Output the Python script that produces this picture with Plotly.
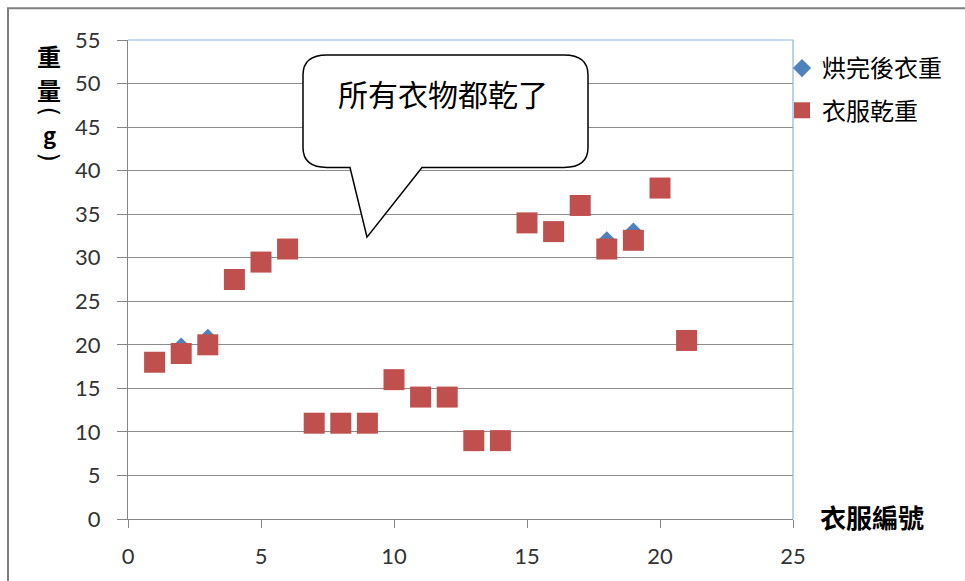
import plotly.graph_objects as go

ids = list(range(1, 22))
dried_weight = [18, 19.8, 20.8, 27.5, 29.5, 31, 11, 11, 11, 16, 14, 14, 9, 9, 34, 33, 36, 32, 33, 38, 20.5]
dry_weight = [18, 19, 20, 27.5, 29.5, 31, 11, 11, 11, 16, 14, 14, 9, 9, 34, 33, 36, 31, 32, 38, 20.5]

W, H = 965, 581
L, R, T, B = 128, 793, 40, 521


def px(x):
    return (x - L) / (R - L)


def py(y):
    return (B - y) / (B - T)


fig = go.Figure()
fig.add_trace(go.Scatter(x=ids, y=dried_weight, mode="markers", name="烘完後衣重",
                         legendgroup="a",
                         marker=dict(symbol="diamond", size=14, color="#4F81BD")))
fig.add_trace(go.Scatter(x=ids, y=dry_weight, mode="markers", name="衣服乾重",
                         legendgroup="b",
                         marker=dict(symbol="square", size=21, color="#C0504D",
                                     line=dict(width=0))))

tickfont = dict(family="Lato, Open Sans, sans-serif", size=22, color="#333333")
fig.update_xaxes(range=[0, 25], dtick=5, showgrid=False, zeroline=False,
                 showline=True, linecolor="#868686", linewidth=1,
                 ticks="outside", ticklen=8, tickcolor="#868686",
                 tickfont=tickfont, ticklabelstandoff=10)
fig.update_yaxes(range=[0, 55], dtick=5, showgrid=True, gridcolor="#8C8C8C",
                 gridwidth=1, zeroline=False, showline=True, linecolor="#868686",
                 linewidth=1, ticks="outside", ticklen=10, tickcolor="#868686",
                 tickfont=tickfont, ticklabelstandoff=12)

r = 24
rv = 20
xl, xr, yt, yb = 303, 588, 55, 168
pts = [
    ("M", xl + r, yt), ("L", xr - r, yt), ("Q", xr, yt, xr, yt + rv),
    ("L", xr, yb - rv), ("Q", xr, yb, xr - r, yb), ("L", 422, yb),
    ("L", 367, 238), ("L", 350, yb), ("L", xl + r, yb),
    ("Q", xl, yb, xl, yb - rv), ("L", xl, yt + rv), ("Q", xl, yt, xl + r, yt),
]
path = ""
for p in pts:
    cmd = p[0]
    coords = p[1:]
    s = []
    for i in range(0, len(coords), 2):
        s.append(f"{px(coords[i]):.5f},{py(coords[i+1]):.5f}")
    path += cmd + " " + " ".join(s) + " "
path += "Z"

shapes = [
    # outer chart border (extends past right/bottom edge as in reference)
    dict(type="rect", xref="paper", yref="paper", x0=px(8), x1=px(990), y0=py(8), y1=py(600),
         line=dict(color="#7F7F7F", width=2), layer="below"),
    # plot area top and right border
    dict(type="line", xref="paper", yref="paper", x0=0, x1=1, y0=1, y1=1,
         line=dict(color="#8EB4E3", width=1.2)),
    dict(type="line", xref="paper", yref="paper", x0=1, x1=1, y0=0, y1=1,
         line=dict(color="#8EB4E3", width=1.2)),
    # callout
    dict(type="path", xref="paper", yref="paper", path=path,
         fillcolor="white", line=dict(color="black", width=1.5), layer="above"),
]

cjk = "Noto Sans CJK TC"
annotations = [
    dict(text="所有衣物都乾了", xref="paper", yref="paper", x=px(443), y=py(93),
         showarrow=False, font=dict(family=cjk, size=30, color="black"),
         xanchor="center", yanchor="middle"),
    dict(text="<b>衣服編號</b>", xref="paper", yref="paper", x=px(872), y=py(518),
         showarrow=False, font=dict(family=cjk, size=26, color="black"),
         xanchor="center", yanchor="middle"),
]
# vertical axis title: 重量(g) stacked, parentheses turned sideways
ytitle = [("重", 56, 24, 0), ("量", 90, 24, 0), ("(", 111, 24, 90), ("g", 134, 22, 0), (")", 157, 24, 90)]
for ch, yy, fs, ang in ytitle:
    annotations.append(dict(text=ch if ang else f"<b>{ch}</b>", xref="paper", yref="paper",
                            x=px(49), y=py(yy), showarrow=False, textangle=ang,
                            font=dict(family="DejaVu Sans" if ang else cjk, size=fs, color="black"),
                            xanchor="center", yanchor="middle", borderpad=0))

fig.update_layout(
    width=W, height=H,
    margin=dict(l=L, r=W - R, t=T, b=H - B, pad=0),
    paper_bgcolor="white", plot_bgcolor="white",
    showlegend=True,
    legend=dict(x=px(782), y=py(46), xanchor="left", yanchor="top",
                font=dict(family=cjk, size=24, color="black"),
                tracegroupgap=8, itemsizing="trace", bgcolor="rgba(0,0,0,0)"),
    shapes=shapes,
    annotations=annotations,
)

fig.write_html("out.html")
